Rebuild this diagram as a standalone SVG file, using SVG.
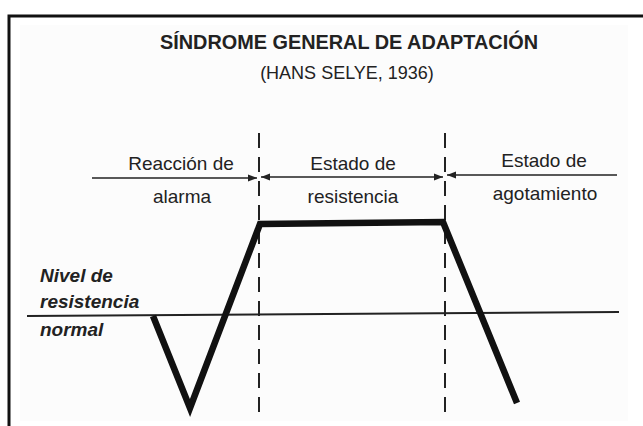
<svg xmlns="http://www.w3.org/2000/svg" width="643" height="426" viewBox="0 0 643 426">
<defs>
<style>
.t{font-family:"Liberation Sans",Arial,sans-serif;fill:#222;}
.lbl{font-size:19px;text-anchor:middle;}
.side{font-size:19px;font-weight:bold;font-style:italic;}
.dash{stroke:#222;stroke-width:2;stroke-dasharray:15 9;fill:none;}
.arr{stroke:#222;stroke-width:1.6;fill:none;}
</style>
<marker id="ah" viewBox="0 0 10 10" refX="10" refY="5" markerWidth="9" markerHeight="9" markerUnits="userSpaceOnUse" orient="auto-start-reverse">
<path d="M0,1 L10,5 L0,9 Z" fill="#222"/>
</marker>
</defs>
<rect width="643" height="426" fill="#fff"/>
<rect x="20" y="25" width="608" height="396" fill="#fcfcfc"/>
<path d="M9,426 V16 H643" fill="none" stroke="#111" stroke-width="3"/>
<g id="title">
<text class="t" x="349" y="49" font-size="19.5" font-weight="bold" text-anchor="middle" textLength="378" lengthAdjust="spacingAndGlyphs">SÍNDROME GENERAL DE ADAPTACIÓN</text>
<text class="t" x="347" y="79" font-size="18" text-anchor="middle">(HANS SELYE, 1936)</text>
</g>
<g id="connectors">
<line class="dash" x1="259" y1="133" x2="259" y2="413"/>
<line class="dash" x1="445" y1="133" x2="445" y2="413"/>
<line class="arr" x1="92" y1="178" x2="257" y2="178" marker-end="url(#ah)"/>
<line class="arr" x1="261" y1="177" x2="443" y2="177" marker-start="url(#ah)" marker-end="url(#ah)"/>
<line class="arr" x1="617" y1="175" x2="447" y2="175" marker-end="url(#ah)"/>
<line stroke="#222" stroke-width="2" x1="27" y1="316" x2="619" y2="312"/>
<polyline points="153,316 190,408 260,224 443,222 517,403" fill="none" stroke="#111" stroke-width="6.5" stroke-linejoin="miter"/>
</g>
<g id="phase-alarma">
<text class="t lbl" x="181" y="170">Reacción de</text>
<text class="t lbl" x="182" y="203">alarma</text>
</g>
<g id="phase-resistencia">
<text class="t lbl" x="353" y="170">Estado de</text>
<text class="t lbl" x="353" y="203">resistencia</text>
</g>
<g id="phase-agotamiento">
<text class="t lbl" x="544" y="167">Estado de</text>
<text class="t lbl" x="545" y="200">agotamiento</text>
</g>
<g id="nivel">
<text class="t side" x="40" y="282">Nivel de</text>
<text class="t side" x="40" y="308">resistencia</text>
<text class="t side" x="40" y="336">normal</text>
</g>
</svg>
